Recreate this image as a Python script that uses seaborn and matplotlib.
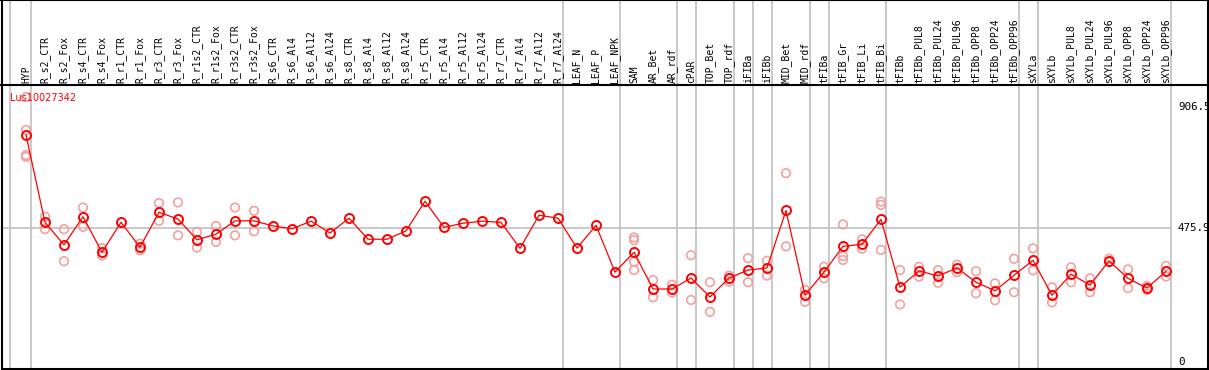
import numpy as np
import pandas as pd
import matplotlib
matplotlib.use('Agg')
import matplotlib.pyplot as plt
import seaborn as sns

sns.set_style('white')

gene = 'Lus10027342'

samples = ['HYP', 'R_s2_CTR', 'R_s2_Fox', 'R_s4_CTR', 'R_s4_Fox', 'R_r1_CTR', 'R_r1_Fox',
           'R_r3_CTR', 'R_r3_Fox', 'R_r1s2_CTR', 'R_r1s2_Fox', 'R_r3s2_CTR', 'R_r3s2_Fox',
           'R_s6_CTR', 'R_s6_Al4', 'R_s6_Al12', 'R_s6_Al24', 'R_s8_CTR', 'R_s8_Al4',
           'R_s8_Al12', 'R_s8_Al24', 'R_r5_CTR', 'R_r5_Al4', 'R_r5_Al12', 'R_r5_Al24',
           'R_r7_CTR', 'R_r7_Al4', 'R_r7_Al12', 'R_r7_Al24', 'LEAF_N', 'LEAF_P', 'LEAF_NPK',
           'SAM', 'AR_Bet', 'AR_rdf', 'cPAR', 'TOP_Bet', 'TOP_rdf', 'iFIBa', 'iFIBb',
           'MID_Bet', 'MID_rdf', 'tFIBa', 'tFIB_Gr', 'tFIB_Li', 'tFIB_Bi', 'tFIBb',
           'tFIBb_PUL8', 'tFIBb_PUL24', 'tFIBb_PUL96', 'tFIBb_OPP8', 'tFIBb_OPP24',
           'tFIBb_OPP96', 'sXYLa', 'sXYLb', 'sXYLb_PUL8', 'sXYLb_PUL24', 'sXYLb_PUL96',
           'sXYLb_OPP8', 'sXYLb_OPP24', 'sXYLb_OPP96']

means = [790, 495, 419, 514, 394, 495, 411, 529, 506, 436, 455, 500, 500,
         483, 473, 499, 459, 509, 438, 438, 466, 566, 478, 492, 499,
         495, 407, 519, 509, 408, 485, 327,
         394, 270, 270, 307, 243, 307, 334, 341,
         535, 249, 327, 414, 421, 505, 276,
         331, 314, 341, 293, 264, 316,
         367, 249, 320, 283, 365, 306, 273, 330]

replicates = [
    [918, 807, 722, 716],
    [514, 472], [472, 364], [545, 480], [408, 383], [], [423, 401],
    [560, 500], [562, 451], [463, 410], [483, 429], [545, 451], [534, 465],
    [], [], [], [], [], [], [], [], [], [], [], [],
    [], [], [], [], [], [], [],
    [444, 435, 362, 334], [300, 242], [284, 258], [384, 233], [293, 193], [315, 295],
    [374, 293], [365, 315],
    [661, 414], [267, 227], [345, 306], [488, 381, 368], [438, 406], [565, 554, 402],
    [334, 218],
    [345, 312], [334, 291], [352, 327], [330, 256], [289, 232], [372, 259],
    [407, 333], [276, 225], [343, 293], [306, 259], [372, 361], [336, 273],
    [280, 267], [348, 312],
]

# last sample index of each group (separator lines)
group_ends = [0, 28, 31, 34, 35, 37, 38, 39, 41, 42, 45, 52, 53, 60]
y_ticks = [906.5, 475.9, 0]

df = pd.DataFrame({'sample': samples, 'pos': np.arange(len(samples)), 'value': means})
rep_rows = [(i, v) for i, reps in enumerate(replicates) for v in reps]
df_rep = pd.DataFrame(rep_rows, columns=['pos', 'value'])

W, H = 1209, 370
fig = plt.figure(figsize=(W / 100, H / 100), dpi=100)
ax = fig.add_axes([0, 0, 1, 1])

# pixel mapping: x px = 26 + 19*i, y px = 369 - v/3.375
def px_x(p):
    return (p - 26) / 19.0

def px_y(p):
    return (369 - p) * 3.375

ax.set_xlim(px_x(0), px_x(W))
ax.set_ylim(px_y(H), px_y(0))
ax.axis('off')

grid_c = '#c0c0c0'
ax.axvline(px_x(10), color=grid_c, lw=1.2, zorder=1)
for g in group_ends:
    ax.axvline(g + 0.24, color=grid_c, lw=1.2, zorder=1)
ax.plot([px_x(2), group_ends[-1] + 0.24], [475.9, 475.9], color=grid_c, lw=1.2, zorder=1)

# borders
ax.plot([px_x(0), px_x(W)], [px_y(85), px_y(85)], color='black', lw=1.5, zorder=2)
ax.plot([px_x(0), px_x(W)], [px_y(0.5), px_y(0.5)], color='black', lw=1.5, zorder=2)
ax.plot([px_x(2), px_x(2)], [px_y(0), px_y(H)], color='black', lw=1.5, zorder=2)
ax.plot([px_x(2), px_x(W)], [px_y(369), px_y(369)], color='black', lw=1.5, zorder=2)
ax.plot([px_x(1208), px_x(1208)], [px_y(0), px_y(369)], color='black', lw=1.5, zorder=2)

sns.scatterplot(data=df_rep, x='pos', y='value', ax=ax, marker='o', s=38,
                facecolors='none', edgecolor='#f2a0a0', linewidth=1.2, zorder=3, legend=False)
sns.lineplot(data=df, x='pos', y='value', ax=ax, color='red', lw=0.9, marker='o',
             markersize=6.5, markerfacecolor='none', markeredgecolor='red',
             markeredgewidth=1.4, zorder=4)

for i, name in enumerate(samples):
    ax.text(i, px_y(83), name, rotation=90, ha='center', va='bottom',
            fontsize=7, family='DejaVu Sans Mono', color='black')

ax.text(px_x(10), px_y(98), gene, color='red', fontsize=7, ha='left', va='center',
        family='DejaVu Sans')

label_y = {906.5: 107, 475.9: 228, 0: 362}
for t in y_ticks:
    lab = '0' if t == 0 else '{:.1f}'.format(t)
    ax.text(px_x(1178), px_y(label_y[t]), lab, fontsize=7.8, ha='left', va='center',
            family='DejaVu Sans Mono', color='black')

plt.savefig('out.png', dpi=100)
plt.close()
